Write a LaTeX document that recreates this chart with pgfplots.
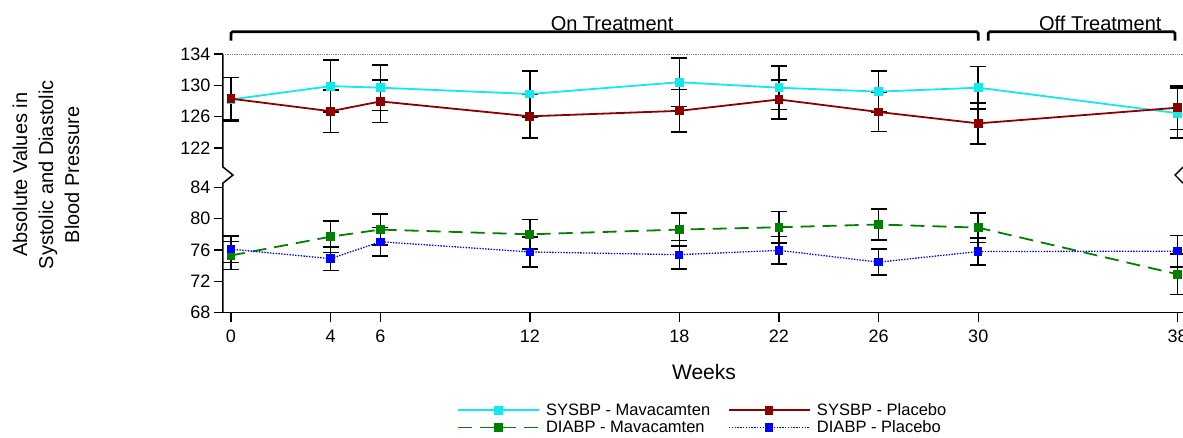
\documentclass[border=0pt]{standalone}
\usepackage{fontspec}
\setmainfont{Liberation Sans}
\usepackage{pgfplots}
\usepackage{pgfplotstable}
\pgfplotsset{compat=1.18}
\definecolor{cyanL}{RGB}{20,232,235}
\definecolor{redL}{RGB}{140,0,0}
\definecolor{greenL}{RGB}{0,128,0}
\definecolor{blueL}{RGB}{0,0,255}

% systolic values are drawn 33 units lower (broken axis: 122..134 shown above 68..84)
\pgfplotstableread{
w sm sme sp spe dm dme dp dpe
0 128.2 2.8 128.3 2.7 75.3 1.8 76.1 1.7
4 129.9 3.3 126.7 2.7 77.7 2.0 74.9 1.5
6 129.7 2.9 127.95 2.7 78.6 2.0 77.05 1.8
12 128.9 2.9 126.05 2.8 78.0 1.9 75.75 1.9
18 130.4 3.1 126.75 2.7 78.6 2.1 75.4 1.8
22 129.7 2.8 128.2 2.5 78.9 2.0 75.95 1.75
26 129.2 2.6 126.6 2.5 79.25 2.0 74.45 1.65
30 129.7 2.7 125.15 2.6 78.85 1.9 75.8 1.7
38 126.45 3.2 127.15 2.8 72.9 2.6 75.85 2.0
}\bp

\pgfplotsset{ebar/.style={forget plot, black, draw=none, only marks, mark=none,
  error bars/.cd, y dir=both, y explicit, error mark=|,
  error bar style={draw=black, solid, line width=1.6pt},
  error mark options={draw=black, solid, line width=1.6pt, mark size=8pt}}}

\begin{document}
\begin{tikzpicture}
\begin{axis}[
  at={(0,0)}, anchor=south west,
  scale only axis, width=960pt, height=258.7pt,
  xmin=-0.32, xmax=38.22, ymin=68, ymax=101,
  clip=false,
  axis lines*=left,
  x axis line style={-, black, line width=1.5pt},
  y axis line style={draw=none},
  xtick={0,4,6,12,18,22,26,30,38},
  ytick={68,72,76,80,84,89,93,97,101},
  yticklabels={68,72,76,80,84,122,126,130,134},
  tick align=outside, major tick length=9pt,
  tick style={black, line width=1.3pt},
  ticklabel style={font=\fontsize{18}{20}\selectfont},
  xticklabel style={yshift=-5pt},
  /pgf/number format/assume math mode=true,
  xlabel={Weeks},
  xlabel style={at={(axis description cs:0.501,-0.229)}, anchor=center, font=\fontsize{21}{24}\selectfont},
  legend columns=2,
  legend style={draw=none, fill=none, inner sep=0pt,
    at={(axis description cs:0.2438,-0.342)}, anchor=north west,
    font=\fontsize{16.5}{19.5}\selectfont, row sep=0pt,
    /tikz/every even column/.append style={column sep=16pt},
    /tikz/every odd column/.append style={column sep=4pt},
    cells={anchor=west}},
  legend image code/.code={\draw[mark repeat=2,mark phase=2,#1] plot coordinates {(0pt,0pt) (40pt,0pt) (81pt,0pt)};},
]
\addplot[ebar] table[x=w, y expr=\thisrow{sm}-33, y error=sme] {\bp};
\addplot[ebar] table[x=w, y expr=\thisrow{sp}-33, y error=spe] {\bp};
\addplot[ebar] table[x=w, y=dm, y error=dme] {\bp};
\addplot[ebar] table[x=w, y=dp, y error=dpe] {\bp};

\addplot[cyanL, line width=1.8pt, mark=square*, mark size=3.5pt, mark options={solid}] table[x=w, y expr=\thisrow{sm}-33] {\bp};
\addlegendentry{SYSBP - Mavacamten}
\addplot[redL, line width=1.8pt, mark=square*, mark size=3.5pt, mark options={solid}] table[x=w, y expr=\thisrow{sp}-33] {\bp};
\addlegendentry{SYSBP - Placebo}
\addplot[greenL, line width=1.8pt, dash pattern=on 14pt off 8pt, mark=square*, mark size=3.5pt, mark options={solid}] table[x=w, y=dm] {\bp};
\addlegendentry{DIABP - Mavacamten}
\addplot[blueL, line width=1.3pt, dash pattern=on 1.4pt off 1.4pt, mark=square*, mark size=3.5pt, mark options={solid}] table[x=w, y=dp] {\bp};
\addlegendentry{DIABP - Placebo}

% broken left spine
\draw[black, line width=1.5pt, line join=miter] (axis cs:-0.32,101) -- (axis cs:-0.32,86.58) -- (axis cs:0.08,85.56) -- (axis cs:-0.32,84.54) -- (axis cs:-0.32,68);
% faint right spine with break
\draw[gray!50, line width=0.8pt, densely dotted] (axis cs:38.22,101) -- (axis cs:38.22,86.58);
\draw[gray!50, line width=0.8pt, densely dotted] (axis cs:38.22,84.54) -- (axis cs:38.22,68);
\draw[black, line width=1.4pt] (axis cs:38.22,86.58) -- (axis cs:37.9,85.56) -- (axis cs:38.22,84.54);
% top dotted line
\draw[gray, densely dotted, line width=0.8pt] (axis cs:-0.32,101) -- (axis cs:38.22,101);
% treatment brackets
\draw[black, line width=2.6pt, rounded corners=1.5pt] (axis cs:0,102.7) -- (axis cs:0,103.84) -- (axis cs:30,103.84) -- (axis cs:30,102.7);
\draw[black, line width=2.6pt, rounded corners=1.5pt] (axis cs:30.4,102.7) -- (axis cs:30.4,103.84) -- (axis cs:37.9,103.84) -- (axis cs:37.9,102.7);
\node[anchor=base, font=\fontsize{20}{22}\selectfont, inner sep=0pt] at (axis cs:15.3,104.05) {On Treatment};
\node[anchor=base, font=\fontsize{20}{22}\selectfont, inner sep=0pt] at (axis cs:34.9,104.05) {Off Treatment};
% y label
\node[rotate=90, align=center, font=\fontsize{20}{26}\selectfont] at (axis description cs:-0.1844,0.533) {Absolute Values in\\Systolic and Diastolic\\Blood Pressure};
\end{axis}
\pgfresetboundingbox
\path[use as bounding box] (-223pt,-125.3pt) rectangle (960pt,312.7pt);
\end{tikzpicture}
\end{document}
